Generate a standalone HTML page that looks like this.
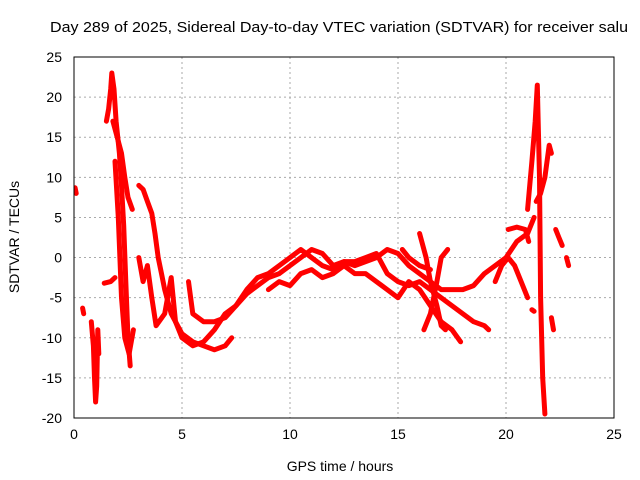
<!DOCTYPE html>
<html><head><meta charset="utf-8"><style>
body{margin:0;background:#fff;}
svg{display:block;font-family:"Liberation Sans",sans-serif;}
</style></head><body>
<svg id="chart" width="640" height="480">
<text x="50" y="32" font-size="14.5" textLength="578" lengthAdjust="spacingAndGlyphs">Day 289 of 2025, Sidereal Day-to-day VTEC variation (SDTVAR) for receiver salu</text>
<g id="grid"></g>
<g id="ticks"></g>
<g id="series" clip-path="url(#clip)"></g>
<defs><clipPath id="clip"><rect x="74" y="57" width="540" height="361"/></clipPath></defs>
<rect x="74" y="57" width="540" height="361" fill="none" stroke="#000"/>
<text x="340" y="471" font-size="14" text-anchor="middle">GPS time / hours</text>
<text transform="translate(19,237) rotate(-90)" font-size="14" text-anchor="middle">SDTVAR / TECUs</text>
</svg>
<script>
const xTicks=[0,5,10,15,20,25];
const yTicks=[25,20,15,10,5,0,-5,-10,-15,-20];
const traceA=[[0.05,8.7],[0.1,8]];
const traceB=[[0.4,-6.3],[0.45,-7]];
const traceC=[[0.8,-8],[0.9,-11],[0.95,-15],[1.0,-18],[1.05,-16],[1.1,-9],[1.15,-12]];
const traceD=[[1.4,-3.2],[1.7,-3],[1.9,-2.5]];
const traceE=[[1.5,17],[1.6,18.5],[1.7,21],[1.75,23],[1.85,21],[1.95,17],[2.1,13],[2.2,9],[2.3,4],[2.4,-3],[2.5,-10],[2.6,-13.5]];
const traceF=[[1.8,17],[2.0,15],[2.2,13],[2.35,10],[2.5,7.5],[2.7,6]];
const traceG=[[1.9,12],[2.05,5],[2.2,-5],[2.35,-10],[2.55,-12],[2.75,-9]];
const traceH=[[3.0,9],[3.2,8.5],[3.4,7],[3.6,5.5],[3.75,3],[3.9,0],[4.05,-2],[4.2,-4],[4.5,-7],[5,-9.5],[5.5,-10.5],[6,-11],[6.5,-11.5],[7,-11],[7.3,-10]];
const traceI=[[3.0,0],[3.2,-3],[3.4,-1],[3.6,-5],[3.8,-8.5],[4.2,-7],[4.5,-2.5],[4.7,-8],[5,-10],[5.5,-11],[6,-10.5],[6.5,-9],[7,-7],[7.5,-6],[8,-4.5],[8.5,-3.5],[9,-2.5],[9.5,-2],[10,-1],[10.5,0],[11,1],[11.5,0.5],[12,-1],[12.5,-0.5],[13,-1],[13.5,-0.5],[14,0],[14.5,1],[15,0.5],[15.5,-1],[16,-2],[16.5,-3],[17,-4],[17.5,-4],[18,-4],[18.5,-3.5],[19,-2],[19.5,-1],[20,0],[20.5,2],[21,3],[21.3,5]];
const traceJ=[[5.3,-3],[5.5,-7],[6,-8],[6.5,-8],[7,-7.5],[7.5,-6],[8,-4],[8.5,-2.5],[9,-2],[9.5,-1],[10,0],[10.5,1],[11,0],[11.5,-1],[12,-1.5],[12.5,-0.5],[13,-0.5],[13.5,0],[14,0.5],[14.5,-2],[15,-3],[15.5,-3.5],[16,-3],[16.5,-4],[17,-5],[17.5,-6],[18,-7],[18.5,-8],[19,-8.5],[19.2,-9]];
const traceK=[[9,-4],[9.5,-3],[10,-3.5],[10.5,-2],[11,-1.5],[11.5,-2.5],[12,-2],[12.5,-1],[13,-2],[13.5,-2],[14,-3],[14.5,-4],[15,-5],[15.5,-3],[16,-4],[16.5,-6],[17,-8],[17.5,-9],[17.9,-10.5]];
const traceL=[[16,3],[16.3,0],[16.5,-3],[16.8,-6],[17,-8.5],[17.2,-9]];
const traceM=[[16.2,-9],[16.5,-7],[16.8,-3],[17,0],[17.3,1]];
const traceN=[[15.2,1],[15.5,0],[16,-1],[16.5,-1.5]];
const traceO=[[19.5,-3],[19.8,-1],[20.1,0],[20.4,-1],[20.7,-3],[21,-5]];
const traceP=[[20.1,3.5],[20.5,3.8],[20.9,3.5],[21.05,2]];
const traceQ=[[21.0,6],[21.2,12],[21.35,17],[21.45,21.5],[21.55,10],[21.6,-5],[21.7,-15],[21.8,-19.5]];
const traceR=[[21.4,7],[21.6,8],[21.8,10],[22.0,14],[22.1,13]];
const traceS=[[21.2,-6.5],[21.3,-6.7]];
const traceT=[[22.3,3.5],[22.45,2.5],[22.6,1.5]];
const traceU=[[22.8,0],[22.9,-1]];
const traceV=[[22.1,-7.5],[22.2,-9]];
const traces=[traceA,traceB,traceC,traceD,traceE,traceF,traceG,traceH,traceI,traceJ,traceK,traceL,traceM,traceN,traceO,traceP,traceQ,traceR,traceS,traceT,traceU,traceV];
const NS="http://www.w3.org/2000/svg";
const X0=74,X1=614,Y0=418,Y1=57;
function xs(v){return X0+(v-0)/(25-0)*(X1-X0);}
function ys(v){return Y0-(v-(-20))/(25-(-20))*(Y0-Y1);}
const grid=document.getElementById('grid'),tk=document.getElementById('ticks'),ser=document.getElementById('series');
xTicks.forEach(t=>{
  const x=xs(t);
  if(t>0&&t<25){const l=document.createElementNS(NS,'line');
  l.setAttribute('x1',x);l.setAttribute('x2',x);l.setAttribute('y1',Y1);l.setAttribute('y2',Y0);
  l.setAttribute('stroke','#aaa');l.setAttribute('stroke-dasharray','2,3');
  
  
  grid.appendChild(l);}
  const s=document.createElementNS(NS,'text');
  s.setAttribute('x',x);s.setAttribute('y',Y0+21);s.setAttribute('font-size','14');s.setAttribute('text-anchor','middle');
  s.textContent=t;
  
  
  tk.appendChild(s);
});
yTicks.forEach(t=>{
  const y=ys(t);
  if(t>-20&&t<25){const l=document.createElementNS(NS,'line');
  l.setAttribute('x1',X0);l.setAttribute('x2',X1);l.setAttribute('y1',y);l.setAttribute('y2',y);
  l.setAttribute('stroke','#aaa');l.setAttribute('stroke-dasharray','2,3');
  
  
  grid.appendChild(l);}
  const s=document.createElementNS(NS,'text');
  s.setAttribute('x',X0-12);s.setAttribute('y',y+5);s.setAttribute('font-size','14');s.setAttribute('text-anchor','end');
  s.textContent=t;
  
  
  tk.appendChild(s);
});
traces.forEach(tr=>{
  const p=document.createElementNS(NS,'polyline');
  p.setAttribute('points',tr.map(d=>xs(d[0]).toFixed(1)+','+ys(d[1]).toFixed(1)).join(' '));
  p.setAttribute('fill','none');p.setAttribute('stroke','#f00');p.setAttribute('stroke-width','5');
  p.setAttribute('stroke-linejoin','round');p.setAttribute('stroke-linecap','round');
  
  
  ser.appendChild(p);
});
</script>
</body></html>
